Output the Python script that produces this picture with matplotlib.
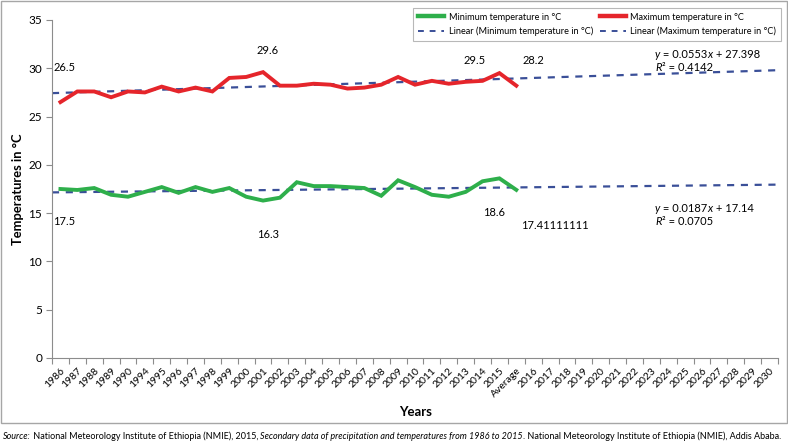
import matplotlib
matplotlib.use("Agg")
import matplotlib.pyplot as plt
from matplotlib.lines import Line2D
from matplotlib.patches import Rectangle
import numpy as np

plt.rcParams['font.family'] = ['Lato', 'DejaVu Sans']

categories = ["1986", "1987", "1988", "1989", "1990", "1994", "1995", "1996", "1997", "1998",
              "1999", "2000", "2001", "2002", "2003", "2004", "2005", "2006", "2007", "2008",
              "2009", "2010", "2011", "2012", "2013", "2014", "2015", "Average",
              "2016", "2017", "2018", "2019", "2020", "2021", "2022", "2023", "2024", "2025",
              "2026", "2027", "2028", "2029", "2030"]

max_temp = [26.5, 27.6, 27.6, 27.0, 27.6, 27.5, 28.1, 27.6, 28.0, 27.6,
            29.0, 29.1, 29.6, 28.2, 28.2, 28.4, 28.3, 27.9, 28.0, 28.3,
            29.1, 28.3, 28.7, 28.4, 28.6, 28.7, 29.5, 28.2]
min_temp = [17.5, 17.4, 17.6, 16.9, 16.7, 17.2, 17.7, 17.1, 17.7, 17.2,
            17.6, 16.7, 16.3, 16.6, 18.2, 17.8, 17.8, 17.7, 17.6, 16.8,
            18.4, 17.7, 16.9, 16.7, 17.2, 18.3, 18.6, 17.41111111]

trend_max = (0.0553, 27.398, 0.4142)   # slope, intercept, R^2
trend_min = (0.0187, 17.14, 0.0705)

GREEN = '#2eaf4b'
RED = '#e5252b'
BLUE = '#3a4f98'
GRAY = '#8c8c8c'

W, H = 788, 442
fig = plt.figure(figsize=(W / 100, H / 100), dpi=100)
ax_left, ax_right, ax_top, ax_bot = 52, 778, 20, 358
ax = fig.add_axes([ax_left / W, 1 - ax_bot / H, (ax_right - ax_left) / W, (ax_bot - ax_top) / H])

n = len(categories)
idx = np.arange(n)

# trend lines across the full category axis
xt = np.array([0.5, n + 0.5])
for slope, icpt, _ in (trend_max, trend_min):
    ax.plot(xt - 1, slope * xt + icpt, color=BLUE, lw=1.6, dashes=(3.2, 3.0), zorder=2)

ax.plot(idx[:len(max_temp)], max_temp, color=RED, lw=2.8, zorder=3, solid_joinstyle='miter')
ax.plot(idx[:len(min_temp)], min_temp, color=GREEN, lw=2.8, zorder=3, solid_joinstyle='miter')

ax.set_xlim(-0.5, n - 0.5)
ax.set_ylim(0, 35)
ax.set_yticks(np.arange(0, 36, 5))
ax.set_xticks(idx)
ax.set_xticklabels(categories, rotation=45, ha='right', rotation_mode='anchor', fontsize=7.5)
ax.set_xticks(np.arange(-0.5, n, 1), minor=True)
ax.tick_params(axis='x', which='major', length=0, pad=6)
ax.tick_params(axis='x', which='minor', length=4, color=GRAY, width=0.8)
ax.tick_params(axis='y', length=4, color=GRAY, width=0.8, labelsize=8.5, pad=3)
for s in ('top', 'right'):
    ax.spines[s].set_visible(False)
for s in ('left', 'bottom'):
    ax.spines[s].set_color(GRAY)
    ax.spines[s].set_linewidth(0.8)

fig.text(18 / W, 1 - 189 / H, 'Temperatures in °C', fontsize=9.3, fontweight='bold',
         rotation=90, ha='center', va='center')
fig.text(416 / W, 1 - 412 / H, 'Years', fontsize=9.5, fontweight='bold', ha='center', va='center')

# data labels
def px2data(px, py):
    return ax.transData.inverted().transform(fig.transFigure.transform((px / W, 1 - py / H)))

def ptext(px, py, s, **kw):
    x, y = px2data(px, py)
    ax.text(x, y, s, ha='center', va='center', fontsize=8, **kw)

ptext(64.5, 67, f"{max_temp[0]:.1f}")
ptext(64.5, 221, f"{min_temp[0]:.1f}")
ptext(268, 50, f"{max_temp[12]:.1f}")
ptext(268, 235, f"{min_temp[12]:.1f}")
ptext(475, 60, f"{max_temp[26]:.1f}")
ptext(533, 60, f"{max_temp[27]:.1f}")
ptext(494, 212, f"{min_temp[26]:.1f}")
ptext(555, 225, f"{min_temp[27]:.8f}")

# chained text pieces (mixed italic / normal)
def chain(px, py, pieces, size):
    prev = None
    for s, style in pieces:
        if prev is None:
            prev = fig.text(px / W, 1 - py / H, s, fontsize=size, style=style, ha='left', va='bottom')
        else:
            prev = ax.annotate(s, xy=(1, 0), xycoords=prev, va='bottom', ha='left',
                               fontsize=size, style=style, annotation_clip=False)
    return prev

chain(655, 60, [('y', 'italic'), (' = %.4f' % trend_max[0], 'normal'), ('x', 'italic'),
                (' + %.3f' % trend_max[1], 'normal')], 8)
chain(655, 73, [('R', 'italic'), ('² = %.4f' % trend_max[2], 'normal')], 8)
chain(655, 214, [('y', 'italic'), (' = %.4f' % trend_min[0], 'normal'), ('x', 'italic'),
                 (' + %.2f' % trend_min[1], 'normal')], 8)
chain(655, 227, [('R', 'italic'), ('² = %.4f' % trend_min[2], 'normal')], 8)

chain(3, 441, [('Source:', 'italic'),
               (' National Meteorology Institute of Ethiopia (NMIE), 2015, ', 'normal'),
               ('Secondary data of precipitation and temperatures from 1986 to 2015', 'italic'),
               ('. National Meteorology Institute of Ethiopia (NMIE), Addis Ababa.', 'normal')], 6.45)

# legend
handles = [Line2D([], [], color=GREEN, lw=3.2),
           Line2D([], [], color=BLUE, lw=1.4, dashes=(3, 3)),
           Line2D([], [], color=RED, lw=3.2),
           Line2D([], [], color=BLUE, lw=1.4, dashes=(3, 3))]
labels = ['Minimum temperature in °C', 'Linear (Minimum temperature in °C)',
          'Maximum temperature in °C', 'Linear (Maximum temperature in °C)']
leg = fig.legend(handles, labels, ncol=2, loc='upper right',
                 bbox_to_anchor=(786 / W, 1 - 3 / H), fontsize=6.6, frameon=True,
                 fancybox=False, edgecolor='#a6a6a6', handlelength=2.8,
                 columnspacing=0.8, handletextpad=0.5, labelspacing=0.55,
                 borderpad=0.55)
leg.get_frame().set_linewidth(0.8)

# outer border
fig.patches.append(Rectangle((0.5 / W, 1 - 423 / H), (W - 1.5) / W, (423 - 0.5) / H,
                             transform=fig.transFigure, fill=False, edgecolor='#a6a6a6',
                             lw=1.0, zorder=0))

fig.savefig('out.png', dpi=100)
